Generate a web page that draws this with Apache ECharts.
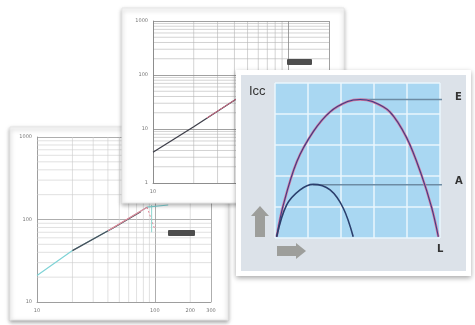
<!DOCTYPE html>
<html>
<head>
<meta charset="utf-8">
<script src="https://cdn.jsdelivr.net/npm/echarts@6/dist/echarts.min.js"></script>
<style>
  html, body { margin: 0; padding: 0; background: #fff; }
  #chart { width: 475px; height: 325px; }
</style>
</head>
<body>
<div id="chart"></div>
<script>
// back card (log-log, bottom left)
var c1XLabels = [10, 100, 200, 300];
var c1YLabels = [10, 100, 1000];
var c1MinorX = [20, 30, 40, 50, 60, 70, 80, 90, 200];
var c1MinorY = [20, 30, 40, 50, 60, 70, 80, 90, 200, 300, 400, 500, 600, 700, 800, 900];
var c1Cyan = [[10, 21], [20, 42], [45, 80], [86, 141], [130, 150]];
var c1Dark = [[20, 42], [45, 80], [76, 124]];
var c1Red = [[40, 73], [86, 141]];
var c1RedDash = [[86, 141], [100, 76]];
var c1CyanDrop = [[94, 150], [94, 70]];

// middle card (log-log, top)
var c2XLabels = [10];
var c2YLabels = [1, 10, 100, 1000];
var c2MinorX = [20, 30, 40, 50, 60, 70, 80, 90];
var c2MinorY = [2, 3, 4, 5, 6, 7, 8, 9, 20, 30, 40, 50, 60, 70, 80, 90, 200, 300, 400, 500, 600, 700, 800, 900];
var c2Dark = [[10, 3.7], [20, 11], [40, 34], [70, 80]];
var c2Red = [[25, 16], [42, 37]];

// front card (Icc curves)
var bigCurve = [[0.05, 0.04], [0.25, 1.06], [0.66, 2.46], [1.16, 3.43], [1.67, 4.07], [2.2, 4.4], [2.58, 4.47],
  [2.95, 4.4], [3.48, 4.07], [3.99, 3.23], [4.44, 2.03], [4.75, 0.97], [4.95, 0.04]];
var smallCurve = [[0.05, 0.04], [0.35, 1.06], [0.76, 1.55], [1.16, 1.73], [1.67, 1.55], [2.07, 0.96], [2.37, 0.04]];
var lineE = [[2.58, 4.47], [5.39, 4.47]];
var lineA = [[1.15, 1.72], [5.39, 1.72]];

var chart = echarts.init(document.getElementById('chart'));

// minor log grid drawn as broken line series
function gridSeries(xi, xs, ys, xr, yr, color, z) {
  var d = [];
  xs.forEach(function (v) { d.push([v, yr[0]], [v, yr[1]], '-'); });
  ys.forEach(function (v) { d.push([xr[0], v], [xr[1], v], '-'); });
  return {
    type: 'line', xAxisIndex: xi, yAxisIndex: xi, z: z, silent: true, data: d,
    showSymbol: false, connectNulls: false, lineStyle: { color: color, width: 0.6 }
  };
}

var tiny = { fontSize: 5, color: '#777', fontFamily: 'DejaVu Sans', formatter: function (v) { return String(v); } };

var option = {
  animation: false,
  graphic: [
    // cards
    { type: 'rect', z: 1, shape: { x: 10, y: 127, width: 218, height: 193 },
      style: { fill: '#fff', stroke: '#e6e6e6', lineWidth: 1, shadowBlur: 4, shadowOffsetY: 2, shadowColor: 'rgba(0,0,0,0.35)' } },
    { type: 'rect', z: 10, shape: { x: 122, y: 8, width: 222, height: 195 },
      style: { fill: '#fff', stroke: '#e6e6e6', lineWidth: 1, shadowBlur: 4, shadowOffsetY: 2, shadowColor: 'rgba(0,0,0,0.3)' } },
    { type: 'rect', z: 20, shape: { x: 236, y: 70, width: 235, height: 206 },
      style: { fill: '#fff', shadowBlur: 5, shadowOffsetY: 2, shadowColor: 'rgba(0,0,0,0.35)' } },
    { type: 'rect', z: 20, shape: { x: 241, y: 75, width: 225, height: 196 },
      style: { fill: '#dce2e9' } },
    // legend blocks
    { type: 'rect', z: 4, shape: { x: 168, y: 230, width: 27, height: 6, r: 1 }, style: { fill: '#4d4d4d' } },
    { type: 'rect', z: 13, shape: { x: 287, y: 59, width: 25, height: 6, r: 1 }, style: { fill: '#4d4d4d' } },
    // texts on front card
    { type: 'text', z: 25, left: 249, top: 85, style: { text: 'Icc', fontSize: 13, fill: '#333', fontFamily: 'Liberation Sans' } },
    { type: 'text', z: 25, left: 455, top: 92, style: { text: 'E', fontSize: 10, fontWeight: 'bold', fill: '#333', fontFamily: 'DejaVu Sans' } },
    { type: 'text', z: 25, left: 455, top: 176, style: { text: 'A', fontSize: 10, fontWeight: 'bold', fill: '#333', fontFamily: 'DejaVu Sans' } },
    { type: 'text', z: 25, left: 437, top: 244, style: { text: 'L', fontSize: 10, fontWeight: 'bold', fill: '#333', fontFamily: 'DejaVu Sans' } },
    // arrows
    { type: 'polygon', z: 25, shape: { points: [[255, 237], [255, 216], [251, 216], [260, 206], [269, 216], [265, 216], [265, 237]] },
      style: { fill: '#9d9e9b' } },
    { type: 'polygon', z: 25, shape: { points: [[277, 246], [296, 246], [296, 243], [306, 251], [296, 259], [296, 256], [277, 256]] },
      style: { fill: '#9d9e9b' } }
  ],
  grid: [
    { left: 37, top: 137, width: 174, height: 165, z: 2 },
    { left: 153, top: 21, width: 176, height: 162, z: 11 },
    { left: 275, top: 83, width: 165, height: 155, z: 21, show: true, backgroundColor: '#a9d7f2', borderWidth: 0 }
  ],
  xAxis: [
    { gridIndex: 0, type: 'log', logBase: 10, min: 10, max: 300, z: 2,
      axisLine: { lineStyle: { color: '#999', width: 0.8 } }, axisTick: { show: false },
      axisLabel: Object.assign({ margin: 6, customValues: c1XLabels }, tiny),
      splitLine: { show: true, lineStyle: { color: '#999', width: 0.8 } } },
    { gridIndex: 1, type: 'log', logBase: 10, min: 10, max: 200, z: 12,
      axisLine: { lineStyle: { color: '#888', width: 0.8 } }, axisTick: { show: false },
      axisLabel: Object.assign({ margin: 6, customValues: c2XLabels }, tiny),
      splitLine: { show: true, lineStyle: { color: '#888', width: 0.8 } } },
    { gridIndex: 2, type: 'value', min: 0, max: 5, interval: 1, z: 22,
      axisLine: { show: false }, axisTick: { show: false }, axisLabel: { show: false },
      splitLine: { show: true, lineStyle: { color: '#eaf6fd', width: 1.5 } } }
  ],
  yAxis: [
    { gridIndex: 0, type: 'log', logBase: 10, min: 10, max: 1000, z: 2,
      axisLine: { show: true, lineStyle: { color: '#999', width: 0.8 } }, axisTick: { show: false },
      axisLabel: Object.assign({ margin: 5, customValues: c1YLabels }, tiny),
      splitLine: { show: true, lineStyle: { color: '#999', width: 0.8 } } },
    { gridIndex: 1, type: 'log', logBase: 10, min: 1, max: 1000, z: 12,
      axisLine: { show: true, lineStyle: { color: '#888', width: 0.8 } }, axisTick: { show: false },
      axisLabel: Object.assign({ margin: 5, customValues: c2YLabels }, tiny),
      splitLine: { show: true, lineStyle: { color: '#888', width: 0.8 } } },
    { gridIndex: 2, type: 'value', min: 0, max: 5, interval: 1, z: 22,
      axisLine: { show: false }, axisTick: { show: false }, axisLabel: { show: false },
      splitLine: { show: true, lineStyle: { color: '#eaf6fd', width: 1.5 } } }
  ],
  series: [
    // card 1
    gridSeries(0, c1MinorX, c1MinorY, [10, 300], [10, 1000], '#cccccc', 2),
    { type: 'line', xAxisIndex: 0, yAxisIndex: 0, z: 3, data: c1Cyan, showSymbol: false, lineStyle: { color: '#7fd3d6', width: 1.2 } },
    { type: 'line', xAxisIndex: 0, yAxisIndex: 0, z: 3, data: c1Dark, showSymbol: false, lineStyle: { color: '#4a4f5a', width: 1.3 } },
    { type: 'line', xAxisIndex: 0, yAxisIndex: 0, z: 3, data: c1Red, showSymbol: false, lineStyle: { color: '#e58a9a', width: 1.2 } },
    { type: 'line', xAxisIndex: 0, yAxisIndex: 0, z: 3, data: c1RedDash, showSymbol: false, lineStyle: { color: '#e58a9a', width: 1, type: [2, 2] } },
    { type: 'line', xAxisIndex: 0, yAxisIndex: 0, z: 3, data: c1CyanDrop, showSymbol: false, lineStyle: { color: '#8fd6cf', width: 1 } },
    // card 2
    gridSeries(1, c2MinorX, c2MinorY, [10, 200], [1, 1000], '#b5b5b5', 11),
    { type: 'line', xAxisIndex: 1, yAxisIndex: 1, z: 12, data: c2Dark, showSymbol: false, lineStyle: { color: '#3e3f4a', width: 1.3 } },
    { type: 'line', xAxisIndex: 1, yAxisIndex: 1, z: 12, data: c2Red, showSymbol: false, lineStyle: { color: '#d46b86', width: 1 } },
    // card 3
    { type: 'line', xAxisIndex: 2, yAxisIndex: 2, z: 23, data: lineE, clip: false, showSymbol: false, lineStyle: { color: '#6d8ba3', width: 1.5 } },
    { type: 'line', xAxisIndex: 2, yAxisIndex: 2, z: 23, data: lineA, clip: false, showSymbol: false, lineStyle: { color: '#6d8ba3', width: 1.5 } },
    { type: 'line', xAxisIndex: 2, yAxisIndex: 2, z: 23, data: bigCurve, smooth: 0.35, showSymbol: false, lineStyle: { color: '#d8739c', width: 2.4 } },
    { type: 'line', xAxisIndex: 2, yAxisIndex: 2, z: 23, data: bigCurve, smooth: 0.35, showSymbol: false, lineStyle: { color: '#3b3f86', width: 1.1 } },
    { type: 'line', xAxisIndex: 2, yAxisIndex: 2, z: 23, data: smallCurve, smooth: 0.35, showSymbol: false, lineStyle: { color: '#2b3f6d', width: 1.6 } }
  ]
};

chart.setOption(option);
</script>
</body>
</html>
